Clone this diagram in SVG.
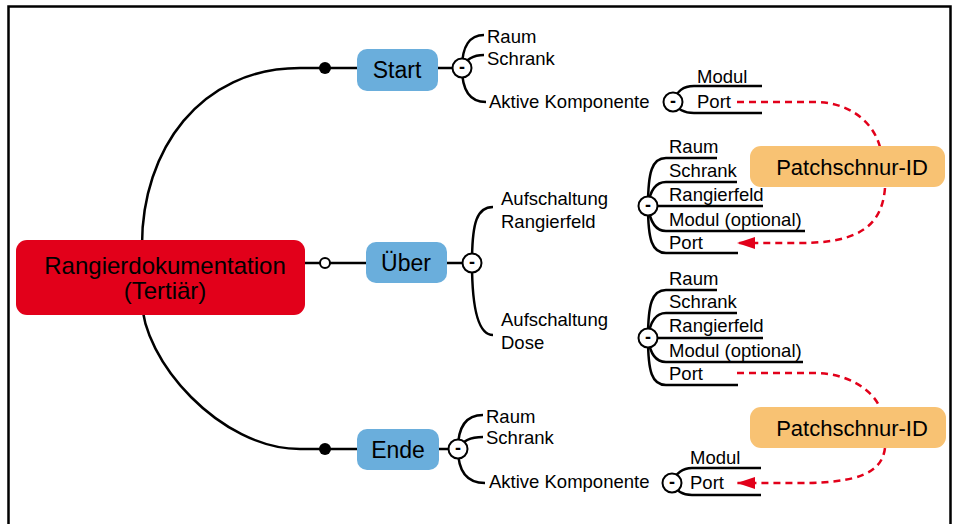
<svg xmlns="http://www.w3.org/2000/svg" width="960" height="524" viewBox="0 0 960 524">
  <defs>
    <marker id="arrowRed" viewBox="0 0 18 12" refX="18" refY="6" markerWidth="18" markerHeight="12" markerUnits="userSpaceOnUse" orient="auto">
      <path d="M0,0 L18,6 L0,12 Z" fill="#e2001a"/>
    </marker>
  </defs>
  <style>
    text { font-family: "Liberation Sans", Arial, Helvetica, sans-serif; fill: #000; }
    .frame { fill: none; stroke: #000; stroke-width: 2.5; }
    .branch { fill: none; stroke: #000; stroke-width: 2.5; }
    .cord { fill: none; stroke: #e2001a; stroke-width: 2.5; stroke-dasharray: 7 5; }
    .root { fill: #e2001a; }
    .topic { fill: #6aaedc; }
    .patch { fill: #f8c273; }
    .toggle { fill: #fff; stroke: #000; stroke-width: 2; }
    .minus { font-size: 18px; font-weight: bold; text-anchor: middle; }
    .t-root { font-size: 24px; text-anchor: middle; }
    .t-topic { font-size: 23px; text-anchor: middle; }
    .t-patch { font-size: 22px; text-anchor: middle; }
    .t-leaf { font-size: 18.5px; }
    .dot { fill: #000; }
    .ring { fill: #fff; stroke: #000; stroke-width: 2; }
  </style>

  <!-- outer frame, open at the bottom -->
  <path class="frame" d="M8.5,530 V6.5 H950.5 V530"/>

  <!-- connectors -->
  <g id="connectors">
    <!-- root to main topics -->
    <path class="branch" d="M142,245 C142,150 200,68 300,68 H462"/>
    <path class="branch" d="M300,263 H472"/>
    <path class="branch" d="M142,300 C142,360 220,449 300,449 H458"/>

    <!-- Start children -->
    <path class="branch" d="M462,68 C462,46 470,35 484,35"/>
    <path class="branch" d="M462,68 C466,59 473,55 484,55"/>
    <path class="branch" d="M462,68 C462,90 470,102 486,102"/>
    <!-- Start / Aktive Komponente children -->
    <path class="branch" d="M673,102 C677,91 683,86 694,86 H762"/>
    <path class="branch" d="M673,102 C677,109 683,113 694,113 H762"/>

    <!-- Über children -->
    <path class="branch" d="M472,263 C472,222 477,207 493,207"/>
    <path class="branch" d="M472,263 C472,304 477,335 493,335"/>

    <!-- Aufschaltung Rangierfeld list -->
    <path class="branch" d="M648,206 C648,172 652,158 666,158 H717"/>
    <path class="branch" d="M648,206 C650,190 656,182 666,182 H737"/>
    <path class="branch" d="M648,206 H763"/>
    <path class="branch" d="M648,206 C650,222 656,231 666,231 H805"/>
    <path class="branch" d="M648,206 C648,240 652,253 666,253 H738"/>

    <!-- Aufschaltung Dose list -->
    <path class="branch" d="M648,338 C648,304 652,290 666,290 H717"/>
    <path class="branch" d="M648,338 C650,321 656,313 666,313 H737"/>
    <path class="branch" d="M648,338 H763"/>
    <path class="branch" d="M648,338 C650,354 656,362 666,362 H803"/>
    <path class="branch" d="M648,338 C648,372 652,385 666,385 H738"/>

    <!-- Ende children -->
    <path class="branch" d="M458,449 C458,427 466,415 483,415"/>
    <path class="branch" d="M458,449 C462,441 470,437 483,437"/>
    <path class="branch" d="M458,449 C458,471 466,483 485,483"/>
    <!-- Ende / Aktive Komponente children -->
    <path class="branch" d="M672,483 C676,473 682,468 692,468 H761"/>
    <path class="branch" d="M672,483 C676,491 682,495 692,495 H761"/>

    <!-- patch cord references -->
    <path class="cord" d="M737,102 H815 C845,102 872,118 880,147"/>
    <path class="cord" d="M885,188 C882,225 860,243 800,243 H737" marker-end="url(#arrowRed)"/>
    <path class="cord" d="M737,373 H815 C845,373 872,388 880,408"/>
    <path class="cord" d="M885,448 C882,472 860,483 800,483 H737" marker-end="url(#arrowRed)"/>
  </g>

  <!-- root node -->
  <g id="node-root">
    <rect class="root" x="16" y="240" width="289" height="75" rx="11"/>
    <text class="t-root" x="165" y="274">Rangierdokumentation</text>
    <text class="t-root" x="165" y="299">(Tertiär)</text>
  </g>

  <!-- Start -->
  <g id="node-start">
    <circle class="dot" cx="325" cy="68" r="6"/>
    <rect class="topic" x="357" y="49" width="81" height="42" rx="10"/>
    <text class="t-topic" x="397" y="78">Start</text>
    <circle class="toggle" cx="462" cy="68" r="9.5"/>
    <text class="minus" x="462" y="73">-</text>
  </g>
  <g id="node-start-children">
    <text class="t-leaf" x="487" y="43">Raum</text>
    <text class="t-leaf" x="487" y="65">Schrank</text>
    <text class="t-leaf" x="489" y="108">Aktive Komponente</text>
    <circle class="toggle" cx="673" cy="102" r="9.5"/>
    <text class="minus" x="673" y="107">-</text>
    <text class="t-leaf" x="697" y="83">Modul</text>
    <text class="t-leaf" x="697" y="108">Port</text>
  </g>

  <!-- Über -->
  <g id="node-ueber">
    <circle class="ring" cx="325" cy="263" r="5"/>
    <rect class="topic" x="366" y="242" width="81" height="41" rx="10"/>
    <text class="t-topic" x="406" y="271">Über</text>
    <circle class="toggle" cx="472" cy="263" r="9.5"/>
    <text class="minus" x="472" y="268">-</text>
  </g>
  <g id="node-aufschaltung-rangierfeld">
    <text class="t-leaf" x="501" y="205">Aufschaltung</text>
    <text class="t-leaf" x="501" y="228">Rangierfeld</text>
    <circle class="toggle" cx="648" cy="206" r="9.5"/>
    <text class="minus" x="648" y="211">-</text>
    <text class="t-leaf" x="669" y="153">Raum</text>
    <text class="t-leaf" x="669" y="177">Schrank</text>
    <text class="t-leaf" x="669" y="201">Rangierfeld</text>
    <text class="t-leaf" x="669" y="226">Modul (optional)</text>
    <text class="t-leaf" x="669" y="249">Port</text>
  </g>
  <g id="node-aufschaltung-dose">
    <text class="t-leaf" x="501" y="326">Aufschaltung</text>
    <text class="t-leaf" x="501" y="349">Dose</text>
    <circle class="toggle" cx="648" cy="338" r="9.5"/>
    <text class="minus" x="648" y="343">-</text>
    <text class="t-leaf" x="669" y="285">Raum</text>
    <text class="t-leaf" x="669" y="308">Schrank</text>
    <text class="t-leaf" x="669" y="332">Rangierfeld</text>
    <text class="t-leaf" x="669" y="357">Modul (optional)</text>
    <text class="t-leaf" x="669" y="380">Port</text>
  </g>

  <!-- Ende -->
  <g id="node-ende">
    <circle class="dot" cx="325" cy="449" r="6"/>
    <rect class="topic" x="357" y="429" width="82" height="41" rx="10"/>
    <text class="t-topic" x="398" y="458">Ende</text>
    <circle class="toggle" cx="458" cy="449" r="9.5"/>
    <text class="minus" x="458" y="454">-</text>
  </g>
  <g id="node-ende-children">
    <text class="t-leaf" x="486" y="423">Raum</text>
    <text class="t-leaf" x="486" y="444">Schrank</text>
    <text class="t-leaf" x="489" y="488">Aktive Komponente</text>
    <circle class="toggle" cx="672" cy="483" r="9.5"/>
    <text class="minus" x="672" y="488">-</text>
    <text class="t-leaf" x="690" y="464">Modul</text>
    <text class="t-leaf" x="690" y="489">Port</text>
  </g>

  <!-- patch cord labels -->
  <g id="node-patch-1">
    <rect class="patch" x="750" y="146" width="195" height="41" rx="11"/>
    <text class="t-patch" x="852" y="175">Patchschnur-ID</text>
  </g>
  <g id="node-patch-2">
    <rect class="patch" x="750" y="407" width="196" height="41" rx="11"/>
    <text class="t-patch" x="852" y="436">Patchschnur-ID</text>
  </g>
</svg>
